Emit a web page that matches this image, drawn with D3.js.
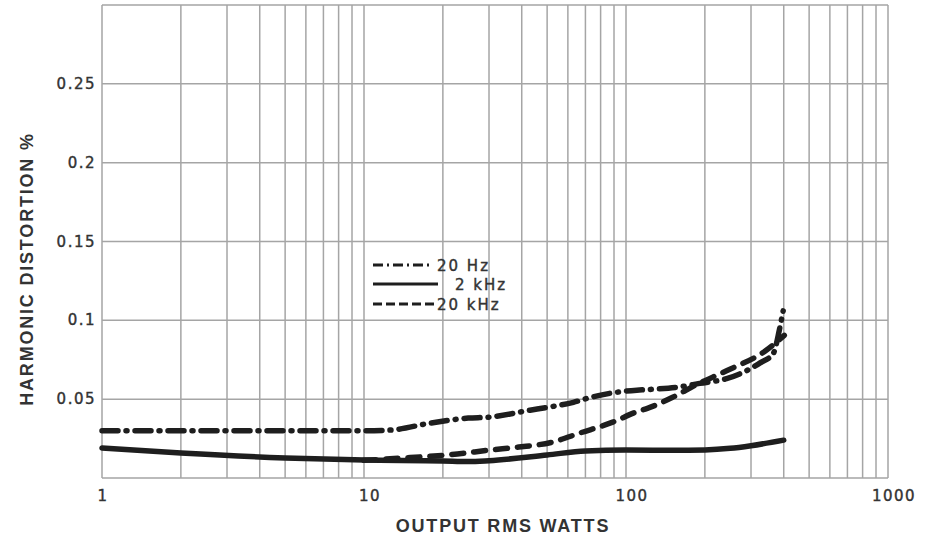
<!DOCTYPE html>
<html>
<head>
<meta charset="utf-8">
<script src="https://cdn.jsdelivr.net/npm/d3@7"></script>
<style>
  body { margin: 0; background: #fff; }
  svg text { fill: #333; }
  svg text.lbl { stroke: #333; stroke-width: 0.4px; }
</style>
</head>
<body>
<svg id="chart" width="936" height="538"></svg>
<script>
// values: watts vs distortion %
var watts20Hz = [1, 2, 5, 10, 12.6, 17.9, 25, 30, 43, 51, 63, 73, 89, 110, 127, 157, 191, 242, 280, 325, 365, 385, 398];
var thd20Hz   = [0.030, 0.030, 0.030, 0.030, 0.0304, 0.0348, 0.038, 0.0386, 0.043, 0.045, 0.048, 0.051, 0.054, 0.0557, 0.0563, 0.0576, 0.060, 0.063, 0.067, 0.073, 0.079, 0.094, 0.106];

var watts2kHz = [1, 2, 5, 10, 20, 25, 30, 50, 70, 100, 150, 200, 250, 300, 400];
var thd2kHz   = [0.019, 0.0158, 0.0127, 0.0114, 0.0108, 0.0104, 0.011, 0.0146, 0.0172, 0.0177, 0.0176, 0.0178, 0.0188, 0.0205, 0.024];

var watts20kHz = [10, 15, 22.7, 30, 39, 52.5, 66.6, 89, 110, 120, 150, 187, 242, 343, 402];
var thd20kHz   = [0.0112, 0.013, 0.0152, 0.0177, 0.0196, 0.0228, 0.0285, 0.0354, 0.042, 0.044, 0.051, 0.0595, 0.068, 0.081, 0.0905];

var xTicks = [1, 10, 100, 1000];
var yTicks = [0.05, 0.1, 0.15, 0.2, 0.25];
var legendNames = ["20 Hz", "2 kHz", "20 kHz"];

var svg = d3.select("#chart");
var plotL = 102, plotR = 888, plotT = 5, plotB = 478;
var tickFont = "'DejaVu Sans', sans-serif";
var titleFont = "'Liberation Sans', Arial, sans-serif";

var x = d3.scaleLog().domain([1, 1000]).range([plotL, plotR]);
var y = d3.scaleLinear().domain([0, 0.3]).range([plotB, plotT]);

// log paper grid
var xGrid = [];
[1, 10, 100].forEach(function(dec){
    for (var k = 1; k <= 9; k++) xGrid.push(dec * k);
});
xGrid.push(1000);

var grid = svg.append("g").attr("stroke", "#a5a5a5").attr("stroke-width", 1.5);
grid.selectAll("line.v").data(xGrid).enter().append("line")
    .attr("class", "v")
    .attr("x1", function(d){ return x(d); })
    .attr("x2", function(d){ return x(d); })
    .attr("y1", plotT).attr("y2", plotB);
grid.selectAll("line.h").data([0].concat(yTicks, [0.3])).enter().append("line")
    .attr("class", "h")
    .attr("x1", plotL).attr("x2", plotR)
    .attr("y1", function(d){ return y(d); })
    .attr("y2", function(d){ return y(d); });

// tick labels
svg.append("g").selectAll("text").data(xTicks).enter().append("text")
    .attr("class", "lbl")
    .attr("x", function(d){ return x(d) + (d == 1 ? 1 : 6); })
    .attr("y", 501)
    .attr("text-anchor", "middle")
    .style("font-family", tickFont)
    .style("font-size", "15px")
    .attr("letter-spacing", 1.5)
    .text(function(d){ return d; });

svg.append("g").selectAll("text").data(yTicks).enter().append("text")
    .attr("class", "lbl")
    .attr("x", 96)
    .attr("y", function(d){ return y(d) + 5; })
    .attr("text-anchor", "end")
    .style("font-family", tickFont)
    .style("font-size", "15px")
    .attr("letter-spacing", 1.5)
    .text(function(d){ return d; });

// axis titles
svg.append("text")
    .attr("x", 503).attr("y", 532)
    .attr("text-anchor", "middle")
    .style("font-family", titleFont)
    .style("font-size", "18px").style("font-weight", "bold")
    .attr("letter-spacing", 1.8)
    .text("OUTPUT RMS WATTS");

svg.append("text")
    .attr("transform", "translate(33,269) rotate(-90)")
    .attr("text-anchor", "middle")
    .style("font-family", titleFont)
    .style("font-size", "18px").style("font-weight", "bold")
    .attr("letter-spacing", 1.8)
    .text("HARMONIC DISTORTION %");

// curves
var line = d3.line()
    .x(function(d){ return x(d[0]); })
    .y(function(d){ return y(d[1]); })
    .curve(d3.curveMonotoneX);

var series = [
    {w: watts20Hz, v: thd20Hz, dash: "16,8,1,8"},
    {w: watts2kHz, v: thd2kHz, dash: null},
    {w: watts20kHz, v: thd20kHz, dash: "12,10"}
];

series.forEach(function(s){
    var pts = s.w.map(function(w, i){ return [w, s.v[i]]; });
    svg.append("path")
        .datum(pts)
        .attr("d", line)
        .attr("fill", "none")
        .attr("stroke", "#1e1e1e")
        .attr("stroke-width", 5.5)
        .attr("stroke-linecap", "round")
        .attr("stroke-dasharray", s.dash);
});

// legend
var lg = svg.append("g");
var legendRows = [
    {y: 265, x2: 430, tx: 437},
    {y: 284, x2: 438, tx: 455},
    {y: 304, x2: 434, tx: 437}
];
legendRows.forEach(function(r, i){
    lg.append("line")
        .attr("x1", 373).attr("x2", r.x2)
        .attr("y1", r.y).attr("y2", r.y)
        .attr("stroke", "#1e1e1e")
        .attr("stroke-width", 3)
        .attr("stroke-dasharray", series[i].dash ? (i == 0 ? "10,4,2,4" : "9,4") : null);
    lg.append("text")
        .attr("class", "lbl")
        .attr("x", r.tx).attr("y", r.y + 6)
        .style("font-family", tickFont)
        .style("font-size", "15px")
        .attr("letter-spacing", 2)
        .text(legendNames[i]);
});
</script>
</body>
</html>
